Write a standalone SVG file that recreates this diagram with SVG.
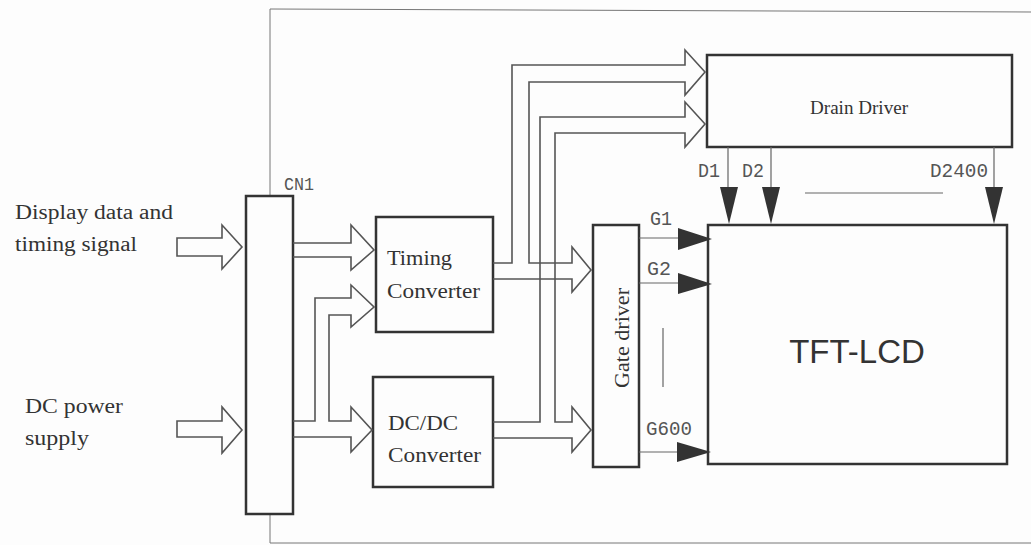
<svg xmlns="http://www.w3.org/2000/svg" width="1031" height="545" viewBox="0 0 1031 545">
<style>
.box{fill:none;stroke:#333;stroke-width:2.5}
.frame{fill:none;stroke:#777;stroke-width:1}
.hollow{fill:none;stroke:#555;stroke-width:1.6;stroke-linejoin:miter}
.thin{fill:none;stroke:#666;stroke-width:1.2}
.tri{fill:#333;stroke:none}
.serif{font-family:"Liberation Serif","Times New Roman",serif;fill:#333}
.mono{font-family:"Liberation Mono","Courier New",monospace;fill:#555}
.sans{font-family:"Liberation Sans",Arial,sans-serif;fill:#333}
</style>
<rect width="1031" height="545" fill="#fdfdfd"/>
<g id="frame">
<path class="frame" d="M270,196 L270,9 L1031,12"/>
<path class="frame" d="M270,514 L270,543 L1031,543"/>
</g>
<g id="input-labels">
<text class="serif" x="15" y="219" font-size="20" textLength="158" lengthAdjust="spacingAndGlyphs">Display data and</text>
<text class="serif" x="15" y="251" font-size="20" textLength="122" lengthAdjust="spacingAndGlyphs">timing signal</text>
<text class="serif" x="25" y="413" font-size="20" textLength="98" lengthAdjust="spacingAndGlyphs">DC power</text>
<text class="serif" x="25" y="445" font-size="20" textLength="64" lengthAdjust="spacingAndGlyphs">supply</text>
</g>
<g id="cn1">
<rect class="box" x="246" y="196" width="47" height="318"/>
<text class="mono" x="284" y="190" font-size="18" textLength="30" lengthAdjust="spacingAndGlyphs">CN1</text>
</g>
<g id="timing-converter">
<rect class="box" x="376" y="217" width="117" height="115"/>
<text class="serif" x="387" y="265" font-size="20" textLength="65" lengthAdjust="spacingAndGlyphs">Timing</text>
<text class="serif" x="387" y="298" font-size="20" textLength="93" lengthAdjust="spacingAndGlyphs">Converter</text>
</g>
<g id="dcdc-converter">
<rect class="box" x="373" y="377" width="120" height="110"/>
<text class="serif" x="388" y="430" font-size="20" textLength="70" lengthAdjust="spacingAndGlyphs">DC/DC</text>
<text class="serif" x="388" y="462" font-size="20" textLength="93" lengthAdjust="spacingAndGlyphs">Converter</text>
</g>
<g id="gate-driver">
<rect class="box" x="593" y="225" width="46" height="242"/>
<text class="serif" transform="translate(629,388) rotate(-90)" x="0" y="0" font-size="21" textLength="100" lengthAdjust="spacingAndGlyphs">Gate driver</text>
</g>
<g id="drain-driver">
<rect class="box" x="707" y="55" width="305" height="92"/>
<text class="serif" x="810" y="114" font-size="18" textLength="98" lengthAdjust="spacingAndGlyphs">Drain Driver</text>
</g>
<g id="tft-lcd">
<rect class="box" x="708" y="225" width="299" height="239"/>
<text class="sans" x="857" y="363" font-size="33" text-anchor="middle">TFT-LCD</text>
</g>
<g id="connectors">
<path class="hollow" d="M222,238 L177,238 L177,256 L222,256 L222,269 L242,247 L222,225 Z"/>
<path class="hollow" d="M222,421 L177,421 L177,437 L222,437 L222,453 L242,430 L222,407 Z"/>
<path class="hollow" d="M293,243 L351,243 L351,225 L374,250 L351,270 L351,257 L293,257"/>
<path class="hollow" d="M293,437 L351,437 L351,452 L372,430 L351,407 L351,421 L329,421 L329,315 L351,315 L351,327 L374,307 L351,285 L351,298 L315,298 L315,421 L293,421"/>
<path class="hollow" d="M493,279 L572,279 L572,292 L591,270 L572,247 L572,263 L529,263 L529,82 L685,82 L685,95 L705,72 L685,50 L685,65 L512,65 L512,263 L493,263"/>
<path class="hollow" d="M493,438 L572,438 L572,452 L591,430 L572,407 L572,422 L555,422 L555,133 L685,133 L685,147 L705,124 L685,102 L685,117 L540,117 L540,422 L493,422"/>
<path class="thin" d="M639,238 L680,238 M639,283 L680,283 M639,452 L680,452"/>
<polygon class="tri" points="678,228 712,239 678,250"/>
<polygon class="tri" points="678,273 712,284 678,294"/>
<polygon class="tri" points="677,442 711,452 677,462"/>
<path class="thin" d="M728,147 L728,190 M771,147 L771,190 M994,147 L994,190"/>
<polygon class="tri" points="720,187 738,187 729,224"/>
<polygon class="tri" points="762,187 780,187 771,224"/>
<polygon class="tri" points="985,187 1003,187 994,224"/>
<path class="thin" d="M805,193 L943,193"/>
<path class="thin" d="M663,328 L663,387"/>
</g>
<g id="pin-labels">
<text class="mono" x="698" y="177" font-size="21" textLength="22" lengthAdjust="spacingAndGlyphs">D1</text>
<text class="mono" x="742" y="177" font-size="21" textLength="22" lengthAdjust="spacingAndGlyphs">D2</text>
<text class="mono" x="930" y="177" font-size="21" textLength="58" lengthAdjust="spacingAndGlyphs">D2400</text>
<text class="mono" x="650" y="225" font-size="21" textLength="22" lengthAdjust="spacingAndGlyphs">G1</text>
<text class="mono" x="647" y="275" font-size="21" textLength="24" lengthAdjust="spacingAndGlyphs">G2</text>
<text class="mono" x="646" y="435" font-size="21" textLength="46" lengthAdjust="spacingAndGlyphs">G600</text>
</g>
</svg>
